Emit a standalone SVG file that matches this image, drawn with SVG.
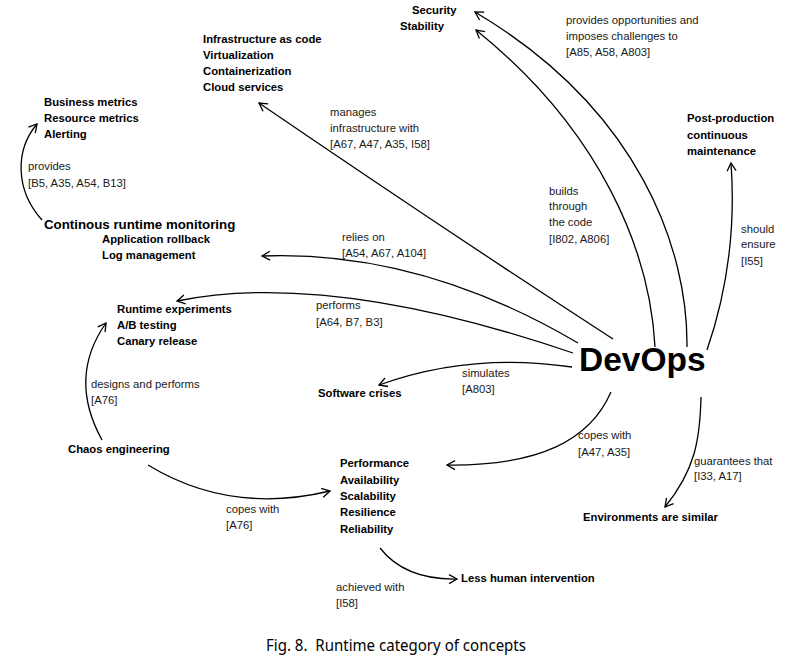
<svg xmlns="http://www.w3.org/2000/svg" width="800" height="667" viewBox="0 0 800 667">
<style>
.n{font-family:"Liberation Sans",Arial,sans-serif;font-weight:bold;font-size:11.3px;fill:#000}
.l{font-family:"Liberation Sans",Arial,sans-serif;font-size:11.3px;fill:#1a1a1a}
.c{fill:none;stroke:#000;stroke-width:1.3;marker-end:url(#ah)}
</style>
<defs>
<marker id="ah" viewBox="-10 -6 12 12" refX="0" refY="0" markerWidth="12" markerHeight="12" markerUnits="userSpaceOnUse" orient="auto">
<path d="M-8,-4.5 L0,0 L-8,4.5" fill="none" stroke="#000" stroke-width="1.3"/>
</marker>
</defs>
<rect width="800" height="667" fill="#fff"/>
<g id="connectors">
<path class="c" d="M613,339 Q445,230 259,103"/>
<path class="c" d="M687,347 C688,250 640,110 475,12"/>
<path class="c" d="M655,347 C650,250 600,130 476,30"/>
<path class="c" d="M707,350 Q738,260 731,163"/>
<path class="c" d="M578,343 Q420,250 262,256"/>
<path class="c" d="M573,353 Q330,270 177,301"/>
<path class="c" d="M572,367 Q470,352 379,385"/>
<path class="c" d="M611,392 C590,440 540,466 447,465"/>
<path class="c" d="M701,397 C700,440 695,470 665,507"/>
<path class="c" d="M42,220 C15,190 15,150 37,124"/>
<path class="c" d="M102,440 C80,400 80,360 106,323"/>
<path class="c" d="M148,465 Q230,515 330,491"/>
<path class="c" d="M380,548 Q405,580 457,579"/>
<g id="labels">
<text class="l" x="330" y="116">manages</text>
<text class="l" x="330" y="132">infrastructure with</text>
<text class="l" x="330" y="148">[A67, A47, A35, I58]</text>
<text class="l" x="566" y="24">provides opportunities and</text>
<text class="l" x="566" y="40">imposes challenges to</text>
<text class="l" x="566" y="56">[A85, A58, A803]</text>
<text class="l" x="549" y="195">builds</text>
<text class="l" x="549" y="210">through</text>
<text class="l" x="549" y="226">the code</text>
<text class="l" x="549" y="243">[I802, A806]</text>
<text class="l" x="741" y="233">should</text>
<text class="l" x="741" y="248">ensure</text>
<text class="l" x="741" y="265">[I55]</text>
<text class="l" x="28" y="170">provides</text>
<text class="l" x="28" y="187">[B5, A35, A54, B13]</text>
<text class="l" x="342" y="241">relies on</text>
<text class="l" x="342" y="257">[A54, A67, A104]</text>
<text class="l" x="316" y="309">performs</text>
<text class="l" x="316" y="326">[A64, B7, B3]</text>
<text class="l" x="462" y="377">simulates</text>
<text class="l" x="462" y="393">[A803]</text>
<text class="l" x="91" y="388">designs and performs</text>
<text class="l" x="91" y="404">[A76]</text>
<text class="l" x="578" y="439">copes with</text>
<text class="l" x="578" y="456">[A47, A35]</text>
<text class="l" x="694" y="465">guarantees that</text>
<text class="l" x="694" y="480">[I33, A17]</text>
<text class="l" x="226" y="513">copes with</text>
<text class="l" x="226" y="529">[A76]</text>
<text class="l" x="336" y="591">achieved with</text>
<text class="l" x="336" y="607">[I58]</text>
</g>
</g>
<g id="devops"><text x="579" y="371" font-family="Liberation Sans,Arial,sans-serif" font-weight="bold" font-size="33.5">DevOps</text></g>
<g id="security"><text class="n" x="412" y="14">Security</text><text class="n" x="400" y="30">Stability</text></g>
<g id="infrastructure"><text class="n" x="203" y="43">Infrastructure as code</text><text class="n" x="203" y="59">Virtualization</text><text class="n" x="203" y="75">Containerization</text><text class="n" x="203" y="91">Cloud services</text></g>
<g id="metrics"><text class="n" x="44" y="106">Business metrics</text><text class="n" x="44" y="122">Resource metrics</text><text class="n" x="44" y="138">Alerting</text></g>
<g id="monitoring"><text x="44" y="229" font-family="Liberation Sans,Arial,sans-serif" font-weight="bold" font-size="13.3">Continous runtime monitoring</text></g>
<g id="rollback"><text class="n" x="102" y="243">Application rollback</text><text class="n" x="102" y="259">Log management</text></g>
<g id="postprod"><text class="n" x="687" y="122">Post-production</text><text class="n" x="687" y="139">continuous</text><text class="n" x="687" y="155">maintenance</text></g>
<g id="experiments"><text class="n" x="117" y="313">Runtime experiments</text><text class="n" x="117" y="329">A/B testing</text><text class="n" x="117" y="345">Canary release</text></g>
<g id="crises"><text class="n" x="318" y="397">Software crises</text></g>
<g id="chaos"><text class="n" x="68" y="453">Chaos engineering</text></g>
<g id="quality"><text class="n" x="340" y="467">Performance</text><text class="n" x="340" y="484">Availability</text><text class="n" x="340" y="500">Scalability</text><text class="n" x="340" y="516">Resilience</text><text class="n" x="340" y="533">Reliability</text></g>
<g id="environments"><text class="n" x="583" y="521">Environments are similar</text></g>
<g id="human"><text class="n" x="461" y="582">Less human intervention</text></g>
<text x="266" y="651" font-family="Noto Sans,Open Sans,sans-serif" font-size="16.5" textLength="260" lengthAdjust="spacingAndGlyphs">Fig. 8.&#160; Runtime category of concepts</text>
</svg>
